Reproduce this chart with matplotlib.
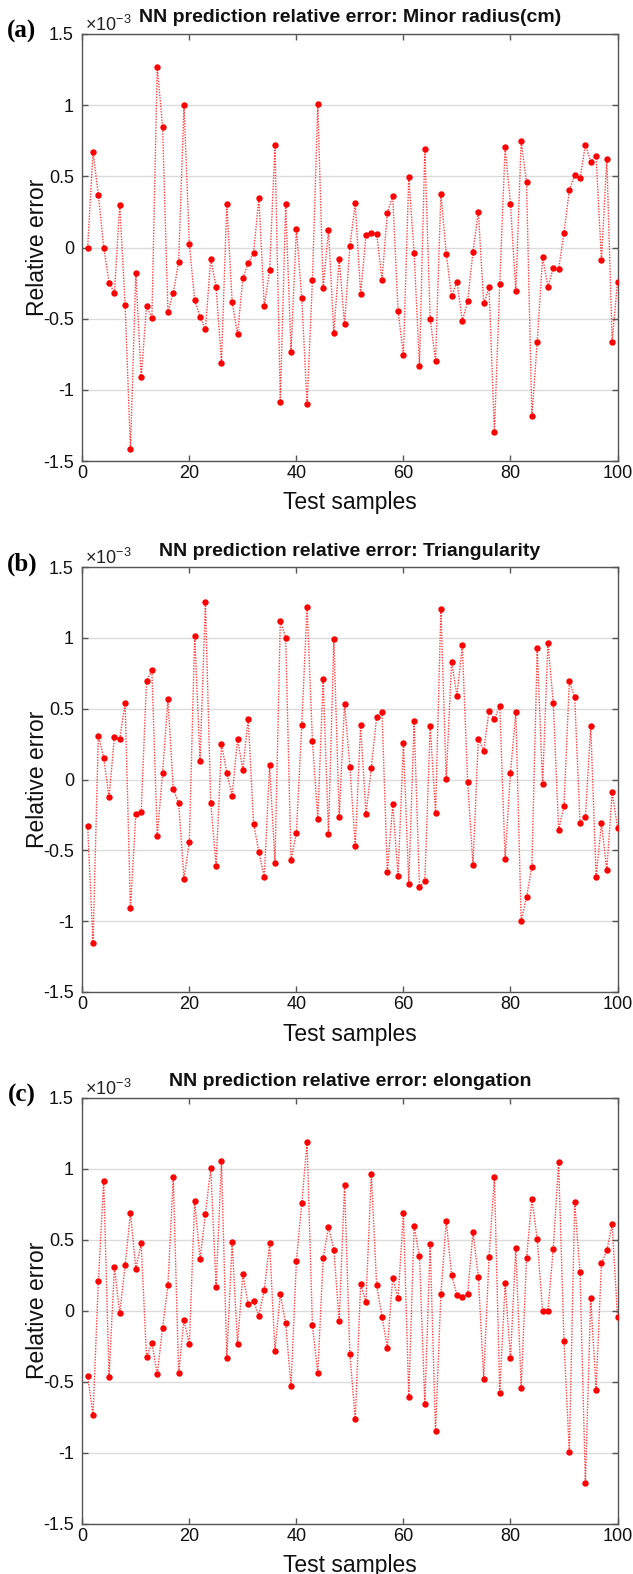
import matplotlib
matplotlib.use("Agg")
import matplotlib.pyplot as plt
import numpy as np

plt.rcParams['font.family'] = ['Liberation Sans', 'DejaVu Sans']
plt.rcParams['mathtext.fontset'] = 'custom'
plt.rcParams['mathtext.rm'] = 'Liberation Sans'
plt.rcParams['mathtext.it'] = 'Liberation Sans:italic'

samples = list(range(1, 101))

minor_radius_err = [
    0.0, 0.672, 0.372, 0.0, -0.246, -0.318, 0.30, -0.405, -1.419, -0.178,
    -0.913, -0.412, -0.496, 1.267, 0.850, -0.454, -0.318, -0.103, 1.002, 0.026,
    -0.372, -0.485, -0.576, -0.080, -0.276, -0.808, 0.307, -0.382, -0.611, -0.215,
    -0.110, -0.037, 0.349, -0.414, -0.159, 0.721, -1.082, 0.307, -0.731, 0.133,
    -0.356, -1.101, -0.227, 1.009, -0.283, 0.122, -0.600, -0.080, -0.539, 0.012,
    0.311, -0.326, 0.087, 0.103, 0.098, -0.227, 0.244, 0.361, -0.447, -0.754,
    0.496, -0.037, -0.834, 0.693, -0.501, -0.796, 0.379, -0.044, -0.344, -0.239,
    -0.515, -0.379, -0.030, 0.251, -0.393, -0.281, -1.297, -0.258, 0.703, 0.307,
    -0.307, 0.747, 0.459, -1.187, -0.663, -0.068, -0.276, -0.143, -0.152, 0.105,
    0.403, 0.508, 0.485, 0.721, 0.604, 0.642, -0.091, 0.625, -0.663, -0.239,
]

triangularity_err = [
    -0.329, -1.157, 0.310, 0.155, -0.127, 0.303, 0.284, 0.542, -0.908, -0.244,
    -0.230, 0.695, 0.770, -0.397, 0.045, 0.566, -0.066, -0.169, -0.700, -0.439,
    1.016, 0.131, 1.254, -0.164, -0.610, 0.249, 0.047, -0.115, 0.284, 0.070,
    0.430, -0.312, -0.514, -0.690, 0.099, -0.587, 1.122, 1.000, -0.568, -0.378,
    0.383, 1.221, 0.272, -0.279, 0.709, -0.385, 0.995, -0.268, 0.535, 0.089,
    -0.469, 0.383, -0.244, 0.082, 0.444, 0.474, -0.655, -0.176, -0.678, 0.258,
    -0.739, 0.413, -0.758, -0.716, 0.378, -0.237, 1.204, 0.002, 0.831, 0.592,
    0.946, -0.016, -0.603, 0.289, 0.204, 0.486, 0.425, 0.521, -0.563, 0.045,
    0.474, -0.998, -0.829, -0.617, 0.927, -0.035, 0.965, 0.542, -0.354, -0.188,
    0.695, 0.580, -0.305, -0.268, 0.378, -0.685, -0.310, -0.636, -0.089, -0.340,
]

elongation_err = [
    -0.458, -0.736, 0.209, 0.917, -0.465, 0.306, -0.019, 0.322, 0.691, 0.296,
    0.475, -0.329, -0.226, -0.447, -0.122, 0.181, 0.942, -0.442, -0.063, -0.237,
    0.776, 0.364, 0.684, 1.004, 0.167, 1.053, -0.336, 0.482, -0.237, 0.256,
    0.045, 0.066, -0.035, 0.148, 0.475, -0.282, 0.118, -0.089, -0.531, 0.350,
    0.757, 1.187, -0.103, -0.442, 0.369, 0.590, 0.430, -0.073, 0.886, -0.306,
    -0.766, 0.186, 0.063, 0.964, 0.179, -0.042, -0.261, 0.233, 0.087, 0.689,
    -0.606, 0.597, 0.383, -0.660, 0.468, -0.851, 0.118, 0.632, 0.254, 0.110,
    0.099, 0.118, 0.555, 0.240, -0.479, 0.381, 0.940, -0.580, 0.197, -0.336,
    0.444, -0.545, 0.369, 0.787, 0.505, -0.002, 0.0, 0.437, 1.046, -0.214,
    -0.999, 0.764, 0.270, -1.215, 0.087, -0.557, 0.334, 0.425, 0.609, -0.042,
]

titles = [
    "NN prediction relative error: Minor radius(cm)",
    "NN prediction relative error: Triangularity",
    "NN prediction relative error: elongation",
]
panel_labels = ["(a)", "(b)", "(c)"]
series = [minor_radius_err, triangularity_err, elongation_err]
x_ticks = [0, 20, 40, 60, 80, 100]
y_ticks = [-1.5, -1.0, -0.5, 0.0, 0.5, 1.0, 1.5]
y_tick_labels = ["-1.5", "-1", "-0.5", "0", "0.5", "1", "1.5"]

W, H = 633, 1574
fig = plt.figure(figsize=(W / 100, H / 100), dpi=100)

ax_left = 82.3
ax_width = 535.2
tops = [34, 567, 1098]
heights = [427, 425, 425.5]

spine_col = '#555555'
for i in range(3):
    top = tops[i]
    h = heights[i]
    ax = fig.add_axes([ax_left / W, 1 - (top + h) / H, ax_width / W, h / H])
    ax.plot(samples, series[i], color='red', linestyle=(0, (1, 1)), linewidth=1.0,
            alpha=0.75, zorder=2)
    ax.plot(samples, series[i], linestyle='none', marker='o', markersize=4.6,
            color='red', markeredgewidth=0, zorder=3)
    ax.set_xlim(0, 100)
    ax.set_ylim(-1.5, 1.5)
    ax.set_xticks(x_ticks)
    ax.set_yticks(y_ticks)
    ax.set_yticklabels(y_tick_labels)
    ax.grid(axis='y', color='#dcdcdc', linewidth=1.0, zorder=0)
    ax.set_axisbelow(True)
    ax.tick_params(direction='in', top=True, right=True, length=4,
                   width=1.0, color=spine_col, labelsize=13, labelcolor='#111111')
    ax.tick_params(axis='x', pad=3)
    ax.tick_params(axis='y', pad=6)
    for s in ax.spines.values():
        s.set_color(spine_col)
        s.set_linewidth(1.0)
    cx = (ax_left + ax_width / 2) / W
    fig.text(cx, 1 - (top - 16) / H, titles[i], ha='center', va='center',
             fontsize=14, fontweight='bold', color='#111111')
    fig.text(22 / W, 1 - (top - 3) / H, panel_labels[i], ha='center', va='center',
             fontsize=18, fontweight='bold', family=['Liberation Serif', 'DejaVu Serif'])
    fig.text(85 / W, 1 - (top - 9) / H, r'$\times10^{-3}$', ha='left', va='center',
             fontsize=13, color='#222222')
    fig.text(cx, 1 - (top + h + 42) / H, "Test samples", ha='center', va='center',
             fontsize=16.5, color='#111111')
    fig.text(37 / W, 1 - (top + h / 2) / H, "Relative error", ha='center', va='center',
             rotation=90, fontsize=16.5, color='#111111')

fig.savefig("out.png", dpi=100)
